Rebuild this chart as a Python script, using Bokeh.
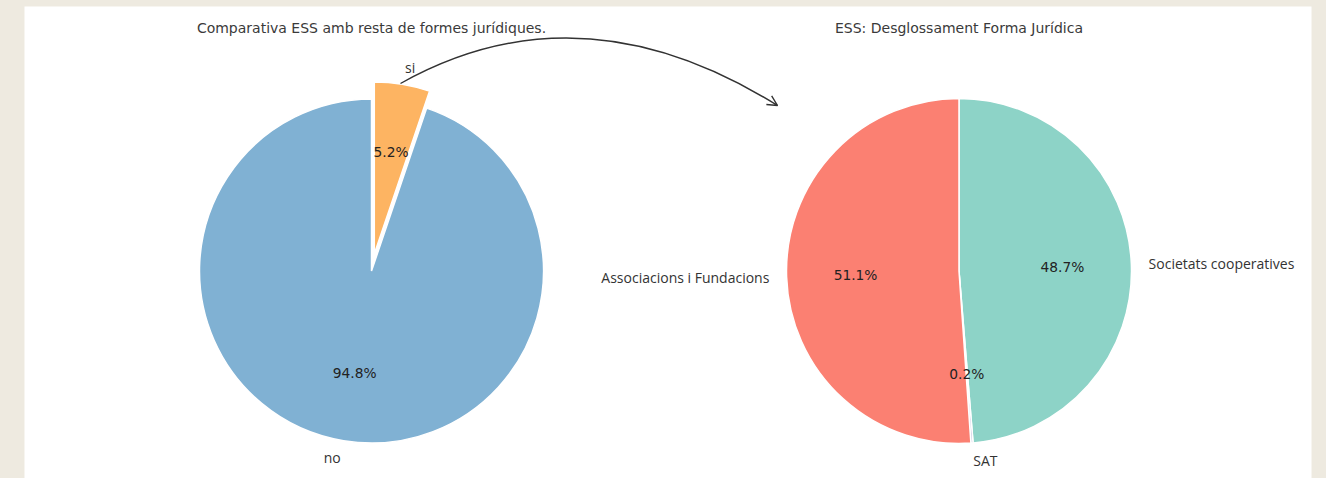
import numpy as np
from bokeh.plotting import figure
from bokeh.models import Range1d, ColumnDataSource, Arrow, OpenHead
from bokeh.core.properties import value
from bokeh.embed import file_html
from bokeh.resources import INLINE

# ---------------- data ----------------
left_title = "Comparativa ESS amb resta de formes jurídiques."
left_labels = ["si", "no"]
left_values = [5.2, 94.8]
left_colors = ["#fdb462", "#80b1d3"]
left_explode = [0.1, 0.0]

right_title = "ESS: Desglossament Forma Jurídica"
right_labels = ["Societats cooperatives", "SAT", "Associacions i Fundacions"]
right_values = [48.7, 0.2, 51.1]
right_colors = ["#8dd3c7", "#bebada", "#fb8072"]

# ---------------- layout ----------------
W, H = 1326, 478
LABEL_FONT = "Open Sans"
PCT_FONT = "DejaVu Sans"
TITLE_FONT = "DejaVu Sans"
TXT = "#333333"


def Y(y_img):
    return H - y_img


p = figure(width=W, height=H, output_backend="svg", toolbar_location=None,
           x_range=Range1d(0, W), y_range=Range1d(0, H),
           min_border=0, border_fill_color="#EEEAE0", background_fill_color="#EEEAE0",
           outline_line_color=None)
p.axis.visible = False
p.grid.visible = False

# white panel
p.quad(left=24, right=1311, bottom=Y(490), top=Y(6), fill_color="white", line_color=None)


def draw_pie(cx, cy, r, title, labels, values, colors, explode):
    vals = np.array(values, dtype=float)
    frac = vals / vals.sum()
    cum = np.concatenate([[0.0], np.cumsum(frac)])
    start = 90 - cum[1:] * 360
    end = 90 - cum[:-1] * 360
    mid = np.radians((start + end) / 2)
    ex = np.array(explode, dtype=float)
    wx = cx + ex * r * np.cos(mid)
    wy = cy + ex * r * np.sin(mid)
    src = ColumnDataSource(dict(x=wx, y=wy, start=start, end=end, color=colors))
    p.wedge(x="x", y="y", radius=r, start_angle="start", end_angle="end",
            start_angle_units="deg", end_angle_units="deg",
            fill_color="color", line_color="white", line_width=1.5, source=src)
    # category labels
    lsrc = ColumnDataSource(dict(
        x=wx + 1.1 * r * np.cos(mid), y=wy + 1.1 * r * np.sin(mid),
        t=list(labels),
        a=["left" if c >= 0 else "right" for c in np.cos(mid)]))
    p.text(x="x", y="y", text="t", text_align="a", text_baseline="middle",
           text_font=value(LABEL_FONT), text_font_size="14px", text_color=TXT, source=lsrc)
    # percentage labels
    psrc = ColumnDataSource(dict(
        x=wx + 0.6 * r * np.cos(mid), y=wy + 0.6 * r * np.sin(mid),
        t=[f"{v * 100:.1f}%" for v in frac]))
    p.text(x="x", y="y", text="t", text_align="center", text_baseline="middle",
           text_font=value(PCT_FONT), text_font_size="13.8px", text_color="#222222", source=psrc)
    # title
    p.text(x=[cx], y=[Y(27)], text=[title], text_align="center", text_baseline="middle",
           text_font=value(TITLE_FONT), text_font_size="14px", text_color="#3a3a3a")


draw_pie(371, Y(270.5), 172, left_title, left_labels, left_values, left_colors, left_explode)
draw_pie(958.5, Y(270.5), 172.5, right_title, right_labels, right_values, right_colors,
         [0, 0, 0])

# connecting curved arrow
x0, y0 = 400, Y(83)
cxp, cyp = 580, Y(-18)
x1, y1 = 777, Y(105)
p.quadratic(x0=[x0], y0=[y0], x1=[x1], y1=[y1], cx=[cxp], cy=[cyp],
            line_color="#333333", line_width=1.4)
tx, ty = x1 - cxp, y1 - cyp
n = np.hypot(tx, ty)
ux, uy = tx / n, ty / n
p.add_layout(Arrow(end=OpenHead(size=10, line_color="#333333", line_width=1.4),
                   x_start=x1 - ux * 4, y_start=y1 - uy * 4, x_end=x1, y_end=y1,
                   line_color="#333333", line_width=1.4))

html = file_html(p, INLINE)
html = html.replace("</head>", "<style>body{background-color:#EEEAE0;}</style></head>", 1)
open("out.html", "w").write(html)
